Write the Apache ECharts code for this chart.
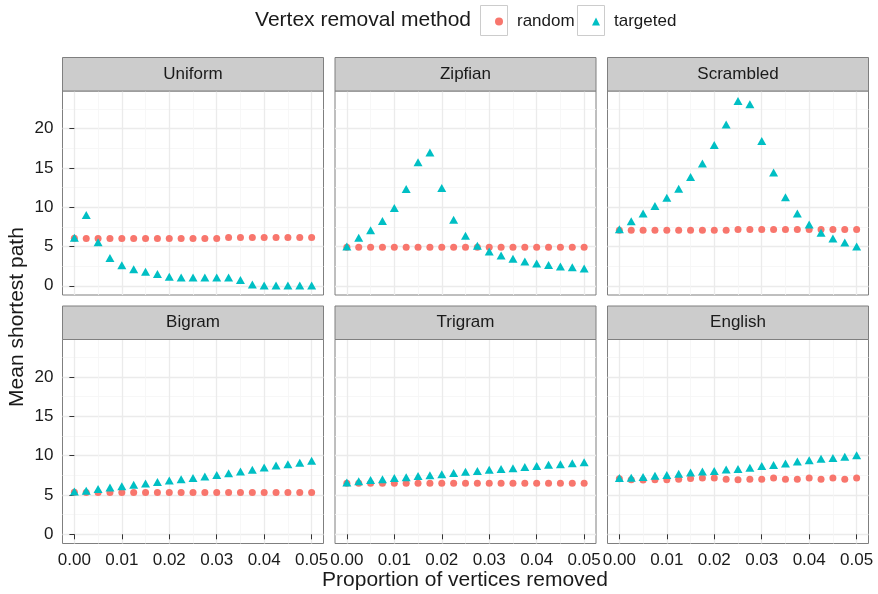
<!DOCTYPE html>
<html><head><meta charset="utf-8">
<script src="https://cdn.jsdelivr.net/npm/echarts@6/dist/echarts.min.js"></script>
<style>html,body{margin:0;padding:0;background:#fff}#c{width:878px;height:594px}</style>
</head><body><div id="c"></div>
<script>
// ---------- data ----------
const xValues = [0, 0.0025, 0.005, 0.0075, 0.01, 0.0125, 0.015, 0.0175, 0.02, 0.0225, 0.025,
                 0.0275, 0.03, 0.0325, 0.035, 0.0375, 0.04, 0.0425, 0.045, 0.0475, 0.05];
const panels = ['Uniform', 'Zipfian', 'Scrambled', 'Bigram', 'Trigram', 'English'];
const methods = ['random', 'targeted'];

const uniformRandom   = [6.05, 6.0, 6.0, 6.0, 6.0, 6.0, 6.0, 6.0, 6.0, 6.0, 6.0, 6.0, 6.0, 6.15, 6.15, 6.15, 6.15, 6.15, 6.15, 6.15, 6.15];
const uniformTargeted = [6.1, 9.0, 5.55, 3.55, 2.6, 2.1, 1.8, 1.5, 1.15, 1.05, 1.05, 1.05, 1.05, 1.05, 0.75, 0.15, 0.05, 0.05, 0.05, 0.05, 0.05];
const zipfianRandom   = [4.9, 4.9, 4.9, 4.9, 4.9, 4.9, 4.9, 4.9, 4.9, 4.9, 4.9, 4.9, 4.9, 4.9, 4.9, 4.9, 4.9, 4.9, 4.9, 4.9, 4.9];
const zipfianTargeted = [5.0, 6.1, 7.05, 8.25, 9.9, 12.3, 15.7, 16.95, 12.45, 8.4, 6.35, 5.1, 4.35, 3.85, 3.45, 3.1, 2.85, 2.65, 2.45, 2.35, 2.2];
const scrambledRandom   = [7.05, 7.05, 7.05, 7.05, 7.05, 7.05, 7.05, 7.05, 7.05, 7.05, 7.15, 7.15, 7.15, 7.15, 7.15, 7.15, 7.15, 7.15, 7.15, 7.15, 7.15];
const scrambledTargeted = [7.2, 8.2, 9.2, 10.15, 11.2, 12.35, 13.85, 15.55, 17.9, 20.5, 23.5, 23.1, 18.4, 14.4, 11.25, 9.2, 7.8, 6.75, 6.0, 5.5, 5.0];
const bigramRandom   = [5.35, 5.3, 5.3, 5.3, 5.3, 5.3, 5.3, 5.3, 5.3, 5.3, 5.3, 5.3, 5.3, 5.3, 5.3, 5.3, 5.3, 5.3, 5.3, 5.3, 5.3];
const bigramTargeted = [5.45, 5.55, 5.75, 5.95, 6.1, 6.3, 6.45, 6.65, 6.85, 7.0, 7.15, 7.35, 7.55, 7.75, 8.0, 8.2, 8.5, 8.75, 8.9, 9.1, 9.35];
const trigramRandom   = [6.5, 6.5, 6.5, 6.5, 6.5, 6.5, 6.5, 6.5, 6.5, 6.5, 6.5, 6.5, 6.5, 6.5, 6.5, 6.5, 6.5, 6.5, 6.5, 6.5, 6.5];
const trigramTargeted = [6.6, 6.75, 6.9, 7.0, 7.15, 7.25, 7.4, 7.5, 7.65, 7.8, 7.95, 8.05, 8.2, 8.3, 8.4, 8.55, 8.7, 8.85, 8.9, 9.05, 9.15];
const englishRandom   = [7.05, 6.95, 6.9, 6.95, 6.95, 7.0, 7.1, 7.15, 7.15, 7.0, 6.95, 7.0, 7.0, 7.15, 7.0, 7.0, 7.15, 7.0, 7.15, 7.0, 7.15];
const englishTargeted = [7.15, 7.2, 7.3, 7.45, 7.55, 7.7, 7.85, 8.0, 8.05, 8.25, 8.3, 8.45, 8.7, 8.8, 9.0, 9.25, 9.4, 9.6, 9.7, 9.85, 10.05];

const xTickValues  = [0, 0.01, 0.02, 0.03, 0.04, 0.05];
const xMinorValues = [0.005, 0.015, 0.025, 0.035, 0.045];
const yTickValues  = [0, 5, 10, 15, 20];
const yMinorValues = [2.5, 7.5, 12.5, 17.5, 22.5];

const randomByPanel   = [uniformRandom, zipfianRandom, scrambledRandom, bigramRandom, trigramRandom, englishRandom];
const targetedByPanel = [uniformTargeted, zipfianTargeted, scrambledTargeted, bigramTargeted, trigramTargeted, englishTargeted];

// ---------- layout / style ----------
const X_MIN = -0.0025, X_MAX = 0.0525;
const Y_MIN = -1.17, Y_MAX = 24.77;
const lefts = [62.5, 335, 607.5];
const tops = [91, 339.5];
const W = 261, H = 204, STRIP = 33.5;
const TXT = '#1a1a1a';
const FONT = 'Liberation Sans, Arial, Helvetica, sans-serif';
const COL_RANDOM = '#F8766D', COL_TARGETED = '#00BFC4';

const grids = [], series = [], graphics = [];
const xMajor = [], xMinor = [], yMajor = [], yMinor = [];

panels.forEach((name, i) => {
  const row = Math.floor(i / 3), col = i % 3;
  const left = lefts[col], top = tops[row];
  grids.push({ left: left, top: top, width: W, height: H, show: true,
    backgroundColor: '#fff', borderColor: '#7f7f7f', borderWidth: 1, containLabel: false, outerBoundsMode: 'none' });

  xMajor.push({ type: 'value', gridIndex: i, min: X_MIN, max: X_MAX,
    axisLine: { show: false },
    axisTick: { show: row === 1, customValues: xTickValues, length: 5, lineStyle: { color: '#333', width: 1 } },
    axisLabel: { show: row === 1, customValues: xTickValues, formatter: v => v.toFixed(2),
      fontSize: 17, color: TXT, fontFamily: FONT, margin: 8 },
    splitLine: { show: true, lineStyle: { color: '#ebebeb', width: 1.3 } } });
  xMinor.push({ type: 'value', gridIndex: i, position: 'top', min: X_MIN, max: X_MAX,
    axisLine: { show: false }, axisLabel: { show: false },
    axisTick: { show: false, customValues: xMinorValues },
    splitLine: { show: true, lineStyle: { color: '#f5f5f5', width: 0.8 } } });

  yMajor.push({ type: 'value', gridIndex: i, min: Y_MIN, max: Y_MAX,
    axisLine: { show: false },
    axisTick: { show: col === 0, customValues: yTickValues, length: 5, lineStyle: { color: '#333', width: 1 } },
    axisLabel: { show: col === 0, customValues: yTickValues, formatter: v => String(v),
      fontSize: 17, color: TXT, fontFamily: FONT, margin: 9 },
    splitLine: { show: true, lineStyle: { color: '#ebebeb', width: 1.3 } } });
  yMinor.push({ type: 'value', gridIndex: i, position: 'right', min: Y_MIN, max: Y_MAX,
    axisLine: { show: false }, axisLabel: { show: false },
    axisTick: { show: false, customValues: yMinorValues },
    splitLine: { show: true, lineStyle: { color: '#f5f5f5', width: 0.8 } } });

  series.push({ type: 'scatter', name: methods[0], xAxisIndex: i, yAxisIndex: i,
    symbol: 'circle', symbolSize: 7, itemStyle: { color: COL_RANDOM, opacity: 1 },
    data: xValues.map((x, j) => [x, randomByPanel[i][j]]), silent: true, z: 3 });
  series.push({ type: 'scatter', name: methods[1], xAxisIndex: i, yAxisIndex: i,
    symbol: 'triangle', symbolSize: [9, 8], itemStyle: { color: COL_TARGETED, opacity: 1 },
    data: xValues.map((x, j) => [x, targetedByPanel[i][j]]), silent: true, z: 4 });

  graphics.push({ type: 'rect', shape: { x: left, y: top - STRIP, width: W, height: STRIP },
    style: { fill: '#cccccc', stroke: '#7f7f7f', lineWidth: 1 }, z: 10 });
  graphics.push({ type: 'text', x: left + W / 2, y: top - STRIP / 2,
    style: { text: name, fill: TXT, fontSize: 17, fontFamily: FONT, textAlign: 'center', textVerticalAlign: 'middle' }, z: 11 });
});

// legend key boxes + title
graphics.push({ type: 'rect', shape: { x: 480.5, y: 5.5, width: 27, height: 30 },
  style: { fill: '#fff', stroke: '#cccccc', lineWidth: 1 }, z: 0 });
graphics.push({ type: 'rect', shape: { x: 577.5, y: 5.5, width: 27, height: 30 },
  style: { fill: '#fff', stroke: '#cccccc', lineWidth: 1 }, z: 0 });
graphics.push({ type: 'text', x: 471, y: 20.5,
  style: { text: 'Vertex removal method', fill: TXT, fontSize: 21, fontFamily: FONT, textAlign: 'right', textVerticalAlign: 'middle' } });
// axis titles
graphics.push({ type: 'text', x: 465, y: 580,
  style: { text: 'Proportion of vertices removed', fill: TXT, fontSize: 21, fontFamily: FONT, textAlign: 'center', textVerticalAlign: 'middle' } });
graphics.push({ type: 'text', x: 17, y: 317, rotation: Math.PI / 2,
  style: { text: 'Mean shortest path', fill: TXT, fontSize: 21, fontFamily: FONT, textAlign: 'center', textVerticalAlign: 'middle' } });

const legendCommon = {
  itemWidth: 8, itemHeight: 8, selectedMode: false,
  itemStyle: { opacity: 1 },
  textStyle: { fontSize: 17, color: TXT, fontFamily: FONT, padding: [0, 0, 0, 9] }
};

const chart = echarts.init(document.getElementById('c'), null, { renderer: 'canvas' });
chart.setOption({
  animation: false,
  backgroundColor: '#fff',
  textStyle: { fontFamily: FONT },
  legend: [
    Object.assign({ data: [{ name: 'random', icon: 'circle' }], left: 490, top: 8 }, legendCommon),
    Object.assign({ data: [{ name: 'targeted', icon: 'triangle' }], left: 587, top: 8 }, legendCommon)
  ],
  grid: grids,
  xAxis: xMajor.concat(xMinor),
  yAxis: yMajor.concat(yMinor),
  series: series,
  graphic: graphics
});
</script>
</body></html>
